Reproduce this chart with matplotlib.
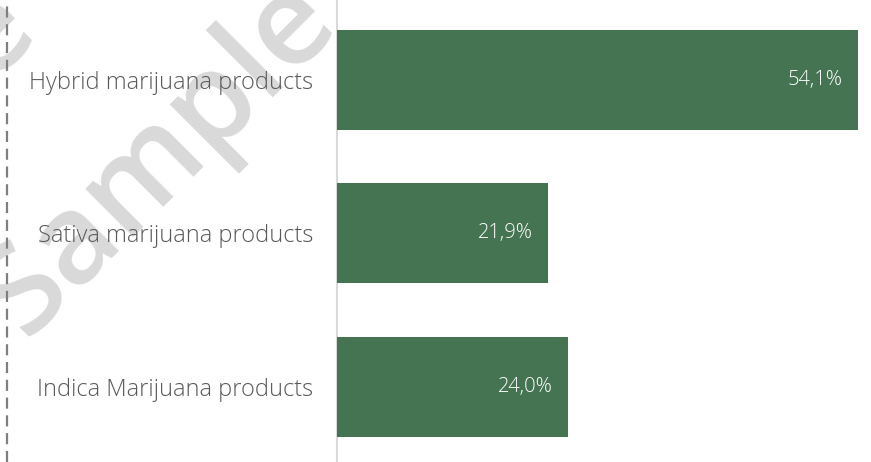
import matplotlib
matplotlib.use("Agg")
import matplotlib.pyplot as plt
from matplotlib.lines import Line2D

categories = ["Hybrid marijuana products", "Sativa marijuana products", "Indica Marijuana products"]
shares = [54.1, 21.9, 24.0]
value_labels = ["54,1%", "21,9%", "24,0%"]

BAR_COLOR = "#457453"
LABEL_COLOR = "#595959"

fig = plt.figure(figsize=(8.71, 4.62), dpi=100)
ax_left = 337 / 871
ax_right = 865 / 871
ax = fig.add_axes([ax_left, 0.0, ax_right - ax_left, 1.0])

y = list(range(len(categories)))
ax.barh(y, shares, height=0.65, color=BAR_COLOR, zorder=3)
ax.set_xlim(0, (865 - 337) / ((858 - 337) / 54.1))
ax.set_ylim(2.49, -0.52)

for yi, v, lab in zip(y, shares, value_labels):
    ax.annotate(lab, (v, yi), xytext=(-11, 0), textcoords="offset points",
                ha="right", va="center", color="white", fontsize=14.5,
                family="Open Sans", fontweight="light", zorder=4)

ax.set_yticks(y)
ax.set_yticklabels(categories, family="Open Sans", fontweight="light",
                   fontsize=17, color=LABEL_COLOR)
ax.tick_params(axis="y", length=0, pad=17)
ax.set_xticks([])
for s in ["top", "right", "bottom"]:
    ax.spines[s].set_visible(False)
ax.spines["left"].set_color("#d9d9d9")
ax.spines["left"].set_linewidth(1.5)
ax.patch.set_alpha(0)

# dashed frame edge on the left
fig.add_artist(Line2D([7 / 871, 7 / 871], [0, 1], transform=fig.transFigure,
                      color="#7f7f7f", linewidth=1.6, linestyle=(0, (5, 3))))

# tiled watermark
for cx, cy in [(160, 158), (-140, 165)]:
    fig.text(cx / 871, 1 - cy / 462, "Sample", rotation=45, ha="center", va="center",
             fontsize=90, color="#d9d9d9", family="Open Sans", fontweight="semibold",
             zorder=-1)

fig.savefig("out.png", dpi=100)
